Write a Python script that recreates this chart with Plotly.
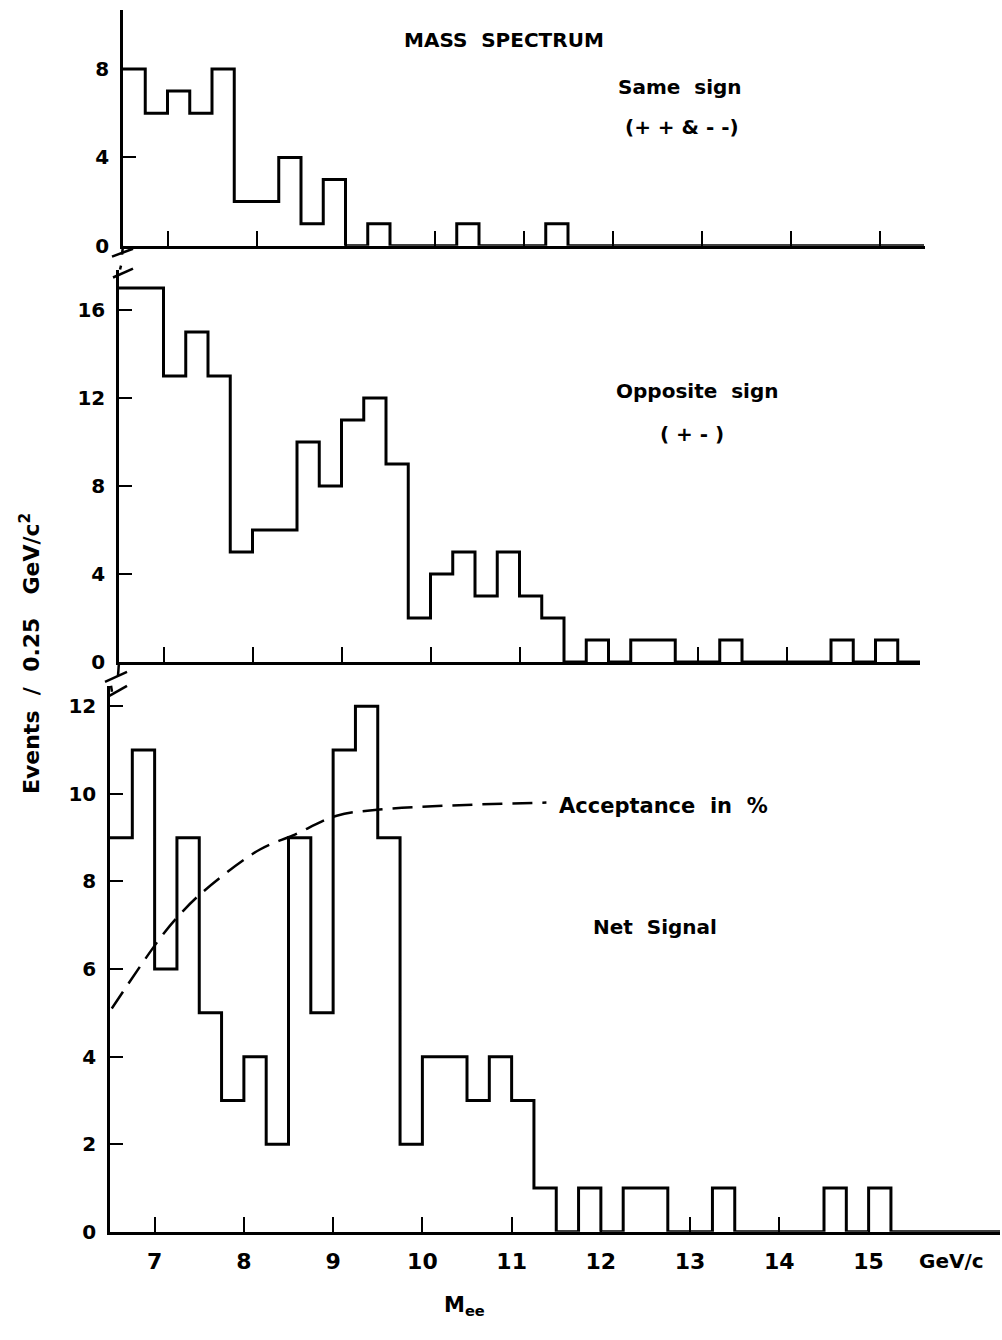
import numpy as np
import plotly.graph_objects as go

W, H = 1002, 1340

# ---------------- data ----------------
mass_start = 6.5          # GeV/c, lower edge of first bin
bin_width = 0.25          # GeV/c

same_sign = [8, 6, 7, 6, 8, 2, 2, 4, 1, 3, 0, 1, 0, 0, 0, 1, 0, 0, 0, 1,
             0, 0, 0, 0, 0, 0, 0, 0, 0, 0, 0, 0, 0, 0, 0, 0]
opposite_sign = [17, 17, 13, 15, 13, 5, 6, 6, 10, 8, 11, 12, 9, 2, 4, 5, 3, 5, 3, 2,
                 0, 1, 0, 1, 1, 0, 0, 1, 0, 0, 0, 0, 1, 0, 1, 0]
net_signal = [9, 11, 6, 9, 5, 3, 4, 2, 9, 5, 11, 12, 9, 2, 4, 4, 3, 4, 3, 1,
              0, 1, 0, 1, 1, 0, 0, 1, 0, 0, 0, 0, 1, 0, 1, 0, 0, 0, 0, 0]

acc_mass = [6.52, 7.06, 7.28, 7.54, 8.18, 8.55, 9.04, 9.52, 10.27, 11.39]
acc_pct = [5.1, 6.7, 7.24, 7.76, 8.73, 9.05, 9.5, 9.64, 9.73, 9.8]

x_ticks = [7, 8, 9, 10, 11, 12, 13, 14, 15]
y_ticks_top = [0, 4, 8]
y_ticks_mid = [0, 4, 8, 12, 16]
y_ticks_bot = [0, 2, 4, 6, 8, 10, 12]


def step_xy(values):
    edges = mass_start + bin_width * np.arange(len(values) + 1)
    return edges, list(values) + [values[-1]]


def fx(px):
    return px / W


def fy(py):
    return 1 - py / H


FONT = "DejaVu Sans"
fig = go.Figure()

# panel geometry (pixels)
panels = {
    "top": dict(x0=123, x1=925, y0=10, y1=248, ppu_x=89.0, ppu_y=22.3),
    "mid": dict(x0=119, x1=920, y0=272, y1=668, ppu_x=89.0, ppu_y=22.2),
    "bot": dict(x0=110, x1=1000, y0=692, y1=1243, ppu_x=89.25, ppu_y=44.2),
}

series = [("top", same_sign, "x", "y"), ("mid", opposite_sign, "x2", "y2"), ("bot", net_signal, "x3", "y3")]
for key, vals, xa, ya in series:
    ex, ey = step_xy(vals)
    fig.add_trace(go.Scatter(x=ex, y=ey, mode="lines", line=dict(color="black", width=3, shape="hv"),
                             xaxis=xa, yaxis=ya, showlegend=False, hoverinfo="skip"))

fig.add_trace(go.Scatter(x=acc_mass, y=acc_pct, mode="lines",
                         line=dict(color="black", width=2.5, dash="20px,10px", shape="spline"),
                         xaxis="x3", yaxis="y3", showlegend=False, hoverinfo="skip"))

axis_common = dict(showline=True, linecolor="black", linewidth=2.5, showgrid=False, zeroline=False,
                   ticks="inside", tickcolor="black", tickwidth=2, mirror=False)

layout_axes = {}
names = [("top", "xaxis", "yaxis", "y", "x", y_ticks_top),
         ("mid", "xaxis2", "yaxis2", "y2", "x2", y_ticks_mid),
         ("bot", "xaxis3", "yaxis3", "y3", "x3", y_ticks_bot)]
for key, xn, yn, yanch, xanch, yt in names:
    p = panels[key]
    xr = [mass_start, mass_start + (p["x1"] - p["x0"]) / p["ppu_x"]]
    yr = [0, (p["y1"] - p["y0"]) / p["ppu_y"]]
    layout_axes[xn] = dict(axis_common, domain=[fx(p["x0"]), fx(p["x1"])], range=xr, anchor=yanch,
                           tickvals=x_ticks, ticklen=15, showticklabels=(key == "bot"),
                           tickfont=dict(family=FONT, size=22, color="black", weight="bold"),
                           ticklabelstandoff=8)
    layout_axes[yn] = dict(axis_common, domain=[fy(p["y1"]), fy(p["y0"])], range=yr, anchor=xanch,
                           tickvals=yt, ticklen=13,
                           tickfont=dict(family=FONT, size=20, color="black", weight="bold"),
                           ticklabelstandoff=7)

fig.update_layout(**layout_axes)

# axis break marks
shapes = []
for (xa, ya, xb, yb) in [(112, 259, 133, 251), (113, 280, 133, 271), (105, 688, 127, 678), (108, 703, 127, 692)]:
    shapes.append(dict(type="line", xref="paper", yref="paper", x0=fx(xa), y0=fy(ya), x1=fx(xb), y1=fy(yb),
                       line=dict(color="black", width=2.5)))
# short axis extensions toward the breaks
for (xa, ya, xb, yb) in [(123, 248, 122, 257), (120, 272, 121, 268), (119, 668, 118, 682), (111, 692, 112, 698)]:
    shapes.append(dict(type="line", xref="paper", yref="paper", x0=fx(xa), y0=fy(ya), x1=fx(xb), y1=fy(yb),
                       line=dict(color="black", width=2.5)))

annotations = []


def add_text(text, x, y, size=20, xanchor="center", angle=0):
    annotations.append(dict(text=text, x=fx(x), y=fy(y), xref="paper", yref="paper", showarrow=False,
                            xanchor=xanchor, yanchor="middle", textangle=angle,
                            font=dict(family=FONT, size=size, color="black", weight="bold")))


NB = "\u00a0"
add_text("MASS" + NB * 2 + "SPECTRUM", 504, 40, 20)
add_text("Same" + NB + " sign", 680, 88, 20)
add_text("(+ + & - -)", 682, 128, 20)
add_text("Opposite" + NB + " sign", 697, 395, 20)
add_text("( + - )", 692, 438, 20)
add_text("Acceptance" + NB + " in" + NB + " %", 557, 813, 21, xanchor="left")
add_text("Net" + NB + " Signal", 655, 935, 20)
add_text("GeV/c", 951, 1272, 20)
add_text("M<sub>ee</sub>", 464, 1318, 21)
add_text("Events" + NB + " / " + NB + "0.25" + NB * 2 + " GeV/c<sup>2</sup>", 30, 660, 22, angle=-90)

fig.update_layout(width=W, height=H, autosize=False, margin=dict(l=0, r=0, t=0, b=0),
                  paper_bgcolor="white", plot_bgcolor="white", shapes=shapes, annotations=annotations,
                  showlegend=False)

fig.write_html("out.html")
